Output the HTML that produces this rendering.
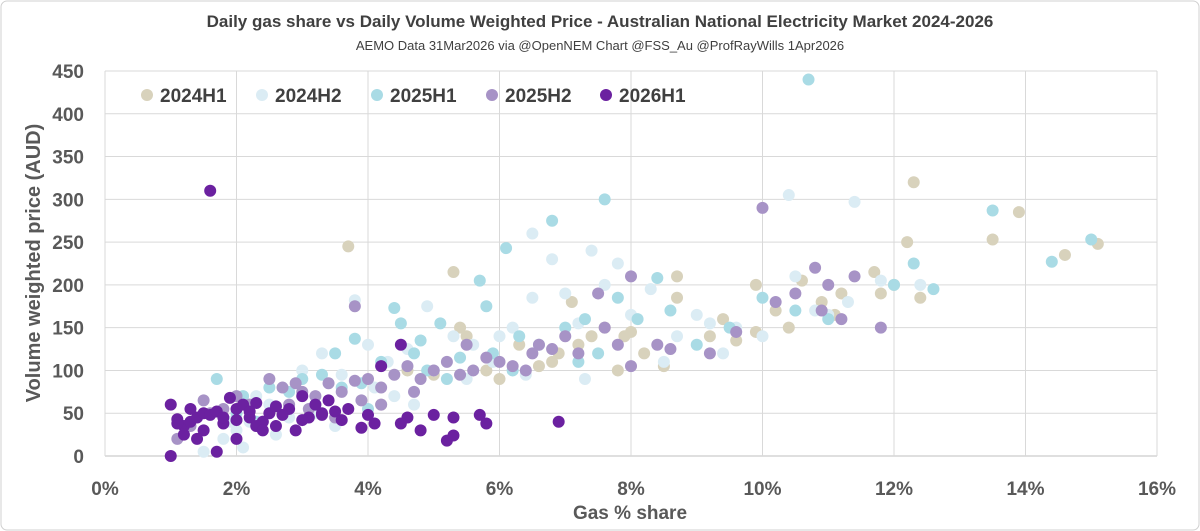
<!DOCTYPE html>
<html><head><meta charset="utf-8"><style>
html,body{margin:0;padding:0;background:#fff;}
svg{display:block;font-family:"Liberation Sans",Arial,sans-serif;}
</style></head><body>
<svg id="chart" width="1200" height="531" viewBox="0 0 1200 531">
<rect x="1" y="1" width="1198" height="529" rx="6" fill="#fff" stroke="#d0d0d0"/>
<text x="600" y="27" text-anchor="middle" font-size="17" font-weight="bold" fill="#404040">Daily gas share vs Daily Volume Weighted Price - Australian National Electricity Market 2024-2026</text>
<text x="600" y="50" text-anchor="middle" font-size="13" fill="#404040">AEMO Data 31Mar2026  via @OpenNEM Chart @FSS_Au @ProfRayWills 1Apr2026</text>
<g id="grid"></g>
<g id="yticks"></g>
<g id="xticks"></g>
<text transform="translate(40,263) rotate(-90)" text-anchor="middle" font-size="20" font-weight="bold" fill="#595959">Volume  weighted price (AUD)</text>
<text x="630" y="519" text-anchor="middle" font-size="19" font-weight="bold" fill="#595959">Gas % share</text>
<g id="points"></g>
<g id="legend"></g>
</svg>
<script>
const seriesNames=["2024H1","2024H2","2025H1","2025H2","2026H1"];
const seriesColors=["#d8d2bc","#dbecf4","#a9dbe5","#a793c6","#6b21a0"];
const xTicks=[0,2,4,6,8,10,12,14,16];
const yTicks=[0,50,100,150,200,250,300,350,400,450];
const s2024H1=[[3.7,245],[4.2,60],[4.6,100],[5.0,95],[5.3,215],[5.5,140],[5.8,100],[6.0,90],[6.3,130],[6.6,105],[6.9,120],[7.1,180],[7.4,140],[7.6,150],[7.9,140],[8.2,120],[8.5,105],[8.7,210],[8.7,185],[9.2,140],[9.6,135],[9.9,200],[9.9,145],[10.2,170],[10.6,205],[10.9,180],[11.2,190],[11.7,215],[11.8,190],[12.0,200],[12.2,250],[12.3,320],[12.4,185],[13.5,253],[13.9,285],[14.6,235],[15.1,248],[5.4,150],[6.8,110],[7.8,100],[9.4,160],[10.4,150],[11.1,165],[8.0,145],[7.2,130]];
const s2024H2=[[1.5,5],[1.8,20],[2.0,30],[2.2,40],[2.5,60],[2.8,45],[3.0,100],[3.3,120],[3.6,95],[3.8,182],[4.0,130],[4.3,110],[4.6,125],[4.9,175],[5.0,100],[5.3,140],[5.6,130],[5.9,110],[6.0,140],[6.2,150],[6.5,260],[6.5,185],[6.8,230],[7.0,190],[7.2,155],[7.4,240],[7.6,200],[7.8,225],[8.0,165],[8.3,195],[8.7,140],[9.0,165],[9.2,155],[9.6,150],[10.0,140],[10.4,305],[10.5,210],[10.8,170],[11.0,165],[11.3,180],[11.4,297],[11.8,205],[12.4,200],[2.3,70],[2.6,25],[3.2,50],[4.1,80],[4.4,70],[5.5,90],[6.4,95],[7.3,90],[8.5,110],[9.4,120],[1.9,40],[3.5,35],[4.7,60],[2.1,10]];
const s2025H1=[[1.7,90],[2.1,70],[2.5,80],[2.8,75],[3.0,90],[3.3,95],[3.6,80],[3.8,137],[3.9,85],[4.2,110],[4.4,173],[4.5,155],[4.7,120],[4.9,100],[5.1,155],[5.4,115],[5.7,205],[5.8,175],[5.9,120],[6.1,243],[6.3,140],[6.6,130],[6.8,275],[7.0,150],[7.3,160],[7.5,120],[7.6,300],[7.8,185],[8.1,160],[8.4,208],[8.6,170],[9.0,130],[9.5,150],[10.0,185],[10.5,170],[10.7,440],[11.0,160],[12.0,200],[12.3,225],[12.6,195],[13.5,287],[14.4,227],[15.0,253],[2.0,50],[2.3,40],[3.2,60],[4.0,55],[5.2,90],[6.2,100],[7.2,110],[3.5,120],[4.8,135]];
const s2025H2=[[1.1,20],[1.3,35],[1.5,65],[1.8,55],[2.0,70],[2.2,60],[2.5,90],[2.7,80],[2.9,85],[3.0,75],[3.2,70],[3.4,85],[3.6,75],[3.8,175],[3.8,88],[4.0,90],[4.2,80],[4.4,95],[4.6,105],[4.8,90],[5.0,100],[5.2,110],[5.4,95],[5.6,100],[5.8,115],[6.0,110],[6.2,105],[6.4,100],[6.6,130],[6.8,125],[7.0,140],[7.2,120],[7.5,190],[7.6,150],[7.8,130],[8.0,210],[8.0,105],[8.4,130],[8.6,125],[9.2,120],[9.6,145],[10.0,290],[10.2,180],[10.5,190],[10.8,220],[10.9,170],[11.0,200],[11.2,160],[11.4,210],[11.8,150],[4.2,60],[3.5,45],[2.4,40],[1.6,50],[3.9,65],[5.5,130],[6.5,120],[3.1,55],[4.7,75],[2.8,60]];
const s2026H1=[[1.0,60],[1.1,43],[1.0,0],[1.2,35],[1.3,40],[1.4,45],[1.5,50],[1.6,310],[1.7,5],[1.6,48],[1.7,52],[1.8,38],[1.9,68],[2.0,55],[2.0,20],[2.1,60],[2.2,45],[2.3,62],[2.4,40],[2.5,50],[2.6,35],[2.8,55],[2.9,30],[3.0,70],[3.1,45],[3.2,60],[3.3,48],[3.5,52],[3.6,42],[3.7,55],[3.9,33],[4.0,48],[4.1,38],[4.2,105],[4.5,130],[4.6,45],[4.5,38],[4.8,30],[5.0,48],[5.2,18],[5.3,24],[5.3,45],[5.7,48],[5.8,38],[6.9,40],[1.2,25],[1.3,55],[1.5,30],[2.3,35],[2.7,48],[1.1,38],[1.8,45],[2.2,52],[3.4,65],[2.0,42],[1.4,20],[2.6,58],[3.0,42],[3.3,50],[2.4,30]];
const allSeries=[s2024H1,s2024H2,s2025H1,s2025H2,s2026H1];

const NS="http://www.w3.org/2000/svg";
const X0=105,X1=1157,Y0=456,Y1=71;
function xs(v){return X0+(v-0)/(16-0)*(X1-X0);}
function ys(v){return Y0-(v-0)/(450-0)*(Y0-Y1);}
function mk(tag,parent){const e=document.createElementNS(NS,tag);parent.appendChild(e);return e;}
const grid=document.getElementById('grid');
yTicks.forEach(t=>{
  const l=mk('line',grid);
  
  
  l.setAttribute('x1',X0);l.setAttribute('x2',X1);l.setAttribute('y1',ys(t));l.setAttribute('y2',ys(t));
  l.setAttribute('stroke',t===0?'#bfbfbf':'#d9d9d9');l.setAttribute('stroke-width','1');
  const tx=mk('text',document.getElementById('yticks'));
  
  
  tx.setAttribute('x',84);tx.setAttribute('y',ys(t)+7);tx.setAttribute('text-anchor','end');
  tx.setAttribute('font-size','19');tx.setAttribute('font-weight','bold');tx.setAttribute('fill','#595959');
  tx.textContent=t;
});
xTicks.forEach(t=>{
  const l=mk('line',grid);
  
  
  l.setAttribute('x1',xs(t));l.setAttribute('x2',xs(t));l.setAttribute('y1',Y1);l.setAttribute('y2',Y0);
  l.setAttribute('stroke','#d9d9d9');l.setAttribute('stroke-width','1');
  const tx=mk('text',document.getElementById('xticks'));
  
  
  tx.setAttribute('x',xs(t));tx.setAttribute('y',495);tx.setAttribute('text-anchor','middle');
  tx.setAttribute('font-size','19');tx.setAttribute('font-weight','bold');tx.setAttribute('fill','#595959');
  tx.textContent=t+'%';
});
const pts=document.getElementById('points');
allSeries.forEach((s,i)=>{
  const g=mk('g',pts);
  
  
  s.forEach(p=>{
    const c=mk('circle',g);
    
    
    c.setAttribute('cx',xs(p[0]));c.setAttribute('cy',ys(p[1]));c.setAttribute('r',6);
    c.setAttribute('fill',seriesColors[i]);
  });
});
const lg=document.getElementById('legend');
const legX=[147,262,377,492,606];
seriesNames.forEach((n,i)=>{
  const g=mk('g',lg);
  
  
  const c=mk('circle',g);
  c.setAttribute('cx',legX[i]);c.setAttribute('cy',95);c.setAttribute('r',6);c.setAttribute('fill',seriesColors[i]);
  const t=mk('text',g);
  t.setAttribute('x',legX[i]+13);t.setAttribute('y',102);t.setAttribute('font-size','19');
  t.setAttribute('font-weight','bold');t.setAttribute('fill','#404040');
  t.textContent=n;
});
</script>
</body></html>
